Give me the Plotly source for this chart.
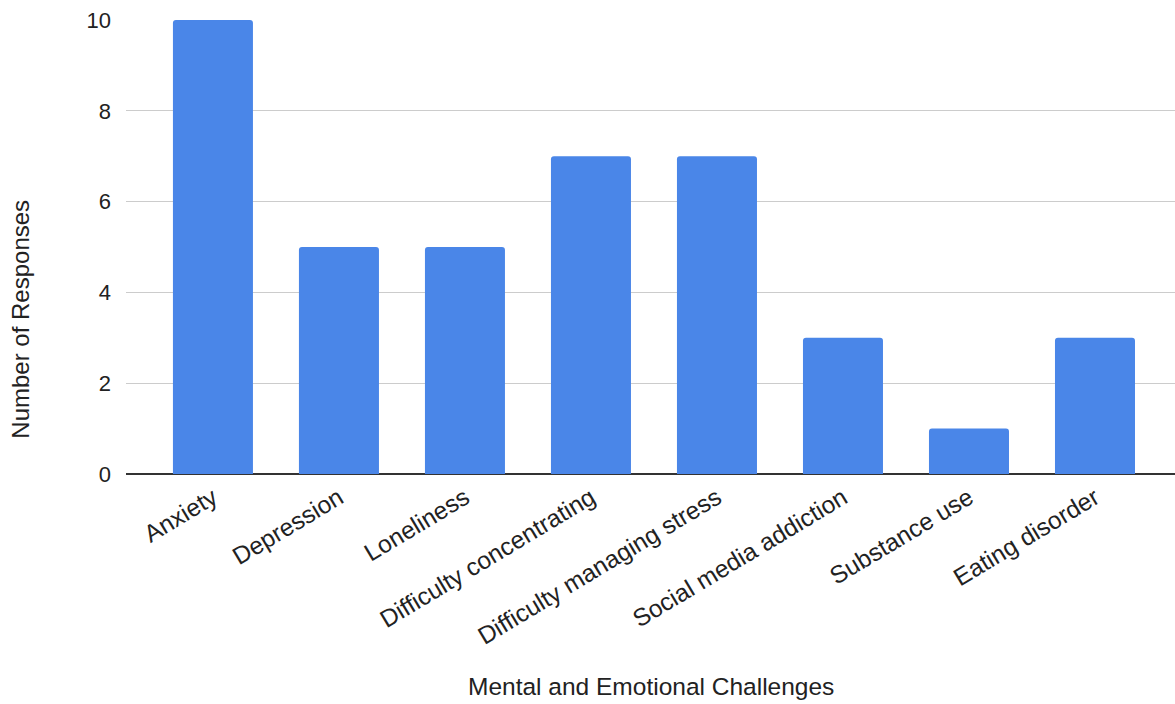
import plotly.graph_objects as go

categories = [
    "Anxiety",
    "Depression",
    "Loneliness",
    "Difficulty concentrating",
    "Difficulty managing stress",
    "Social media addiction",
    "Substance use",
    "Eating disorder",
]
responses = [10, 5, 5, 7, 7, 3, 1, 3]
y_ticks = [0, 2, 4, 6, 8, 10]

FONT = "Liberation Sans, Arial, sans-serif"
TEXT = "#222222"

fig = go.Figure(
    go.Bar(
        x=categories,
        y=responses,
        marker=dict(color="#4a86e8", line=dict(width=0)),
        hoverinfo="x+y",
    )
)

fig.update_layout(
    width=1175,
    height=704,
    margin=dict(l=126, r=0, t=20, b=230),
    paper_bgcolor="white",
    plot_bgcolor="white",
    bargap=0.365,
    barcornerradius=3,
    showlegend=False,
    font=dict(family=FONT, size=24, color=TEXT),
)

fig.update_xaxes(
    type="category",
    range=[-0.69, 7.635],
    tickangle=-31,
    ticks="",
    showgrid=False,
    showline=False,
    ticklabelstandoff=4,
    tickfont=dict(family=FONT, size=24.5, color=TEXT),
)

fig.update_yaxes(
    range=[0, 10],
    tickvals=y_ticks,
    ticktext=[str(v) for v in y_ticks],
    showgrid=True,
    gridcolor="#cccccc",
    gridwidth=1,
    zeroline=True,
    zerolinecolor="#333333",
    zerolinewidth=2,
    ticks="",
    ticklabelstandoff=14,
    tickfont=dict(family=FONT, size=22, color=TEXT),
)

fig.add_annotation(
    text="Number of Responses",
    xref="paper", yref="paper",
    x=0, y=0.341,
    xshift=-121,
    textangle=-90,
    showarrow=False,
    font=dict(family=FONT, size=24, color=TEXT),
)
fig.add_annotation(
    text="Mental and Emotional Challenges",
    xref="paper", yref="paper",
    x=0.5, y=0,
    yshift=-228,
    showarrow=False,
    font=dict(family=FONT, size=24.5, color=TEXT),
)

fig.write_html("out.html")
